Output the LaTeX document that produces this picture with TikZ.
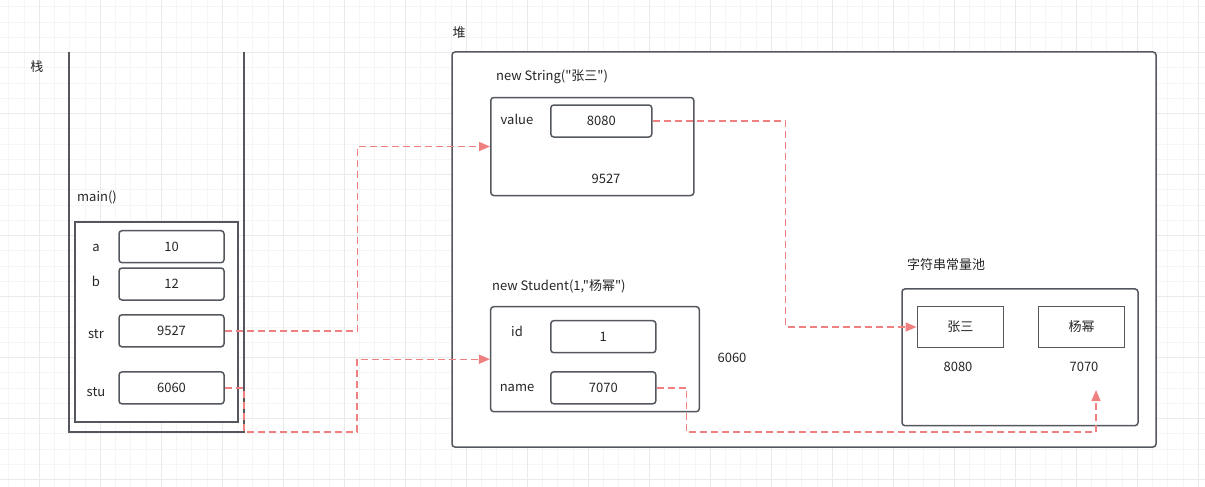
\documentclass[tikz,border=0pt]{standalone}
\usepackage{fontspec}
\setmainfont{Noto Sans CJK SC}[Ligatures=TeXOff]
\usetikzlibrary{arrows.meta}

\definecolor{edge}{RGB}{84,88,94}
\definecolor{refred}{RGB}{238,128,128}
\definecolor{gridmin}{RGB}{245,245,245}
\definecolor{gridmaj}{RGB}{234,234,234}

\begin{document}
\begin{tikzpicture}[
  x=1pt, y=-1pt,
  font=\fontsize{13}{15}\selectfont, text=black!85,
  lbl/.style={inner sep=0pt},
  cell/.style={draw=edge, line width=1.5pt, fill=white, rounded corners=3pt,
               inner sep=0pt, minimum height=32pt},
  frame/.style={draw=edge, line width=1.5pt, fill=white, inner sep=0pt},
  wall/.style={draw=edge, line width=1.5pt},
  ref/.style={draw=refred, line width=1.4pt, dash pattern=on 7pt off 4pt,
              -{Triangle[length=11pt,width=9pt]}},
]
\useasboundingbox (0,0) rectangle (1205,487);

% ---- grid ----
\foreach \k in {-2,...,76} \draw[gridmin, line width=1pt] ({39.3+15.25*\k},0) -- ++(0,487);
\foreach \k in {-3,...,28} \draw[gridmin, line width=1pt] (0,{52.7+15.25*\k}) -- ++(1205,0);
\foreach \k in {0,4,...,76} \draw[gridmaj, line width=1.2pt] ({39.3+15.25*\k},0) -- ++(0,487);
\foreach \k in {0,4,...,28} \draw[gridmaj, line width=1.2pt] (0,{52.7+15.25*\k}) -- ++(1205,0);

% ---- stack ----
\node[lbl] (stklbl) at (37,67) {栈};
\draw[wall] (69,52) -- (69,432) -- (244,432) -- (244,52);
\coordinate (stkbr) at (244,432);
\node[lbl, anchor=west] (mainlbl) at (77,197) {main()};
\node[frame, minimum width=163pt, minimum height=200pt] (mainfr) at (156.5,322) {};

\node[cell, minimum width=105pt] (va)   at (171.5,246.7) {10};
\node[cell, minimum width=105pt] (vb)   at (171.5,284)   {12};
\node[cell, minimum width=105pt] (vstr) at (171.5,330.8) {9527};
\node[cell, minimum width=105pt] (vstu) at (171.5,387.9) {6060};
\node[lbl] (la)   at (96,248) {a};
\node[lbl] (lb)   at (96,281) {b};
\node[lbl] (lstr) at (96,334) {str};
\node[lbl] (lstu) at (96,392) {stu};

% ---- heap ----
\node[lbl] (heaplbl) at (459,33) {堆};
\node[cell, minimum width=704pt, minimum height=395pt] (heap) at (804,249.5) {};

% String object
\node[lbl, anchor=west] (strlbl) at (496,77) {new String("张三")};
\node[cell, minimum width=203pt, minimum height=98pt] (strobj) at (592.3,146.5) {};
\node[cell, minimum width=101pt] (v8080) at (601.3,121) {8080};
\node[lbl] (lvalue) at (517,119) {value};
\node[lbl] (a9527)  at (606,179) {9527};

% Student object
\node[lbl, anchor=west] (stulbl) at (492,286) {new Student(1,"杨幂")};
\node[cell, minimum width=208.6pt, minimum height=105pt] (stuobj) at (595,359.2) {};
\node[cell, minimum width=105pt] (vid)   at (603.3,336.7) {1};
\node[cell, minimum width=105pt] (vname) at (603.3,387.8) {7070};
\node[lbl] (lid)   at (517,331) {id};
\node[lbl] (lname) at (517,388) {name};
\node[lbl] (a6060) at (732,358) {6060};

% string pool
\node[lbl, anchor=west] (poollbl) at (907,265) {字符串常量池};
\node[cell, minimum width=236pt, minimum height=136.7pt] (pool) at (1020,357.3) {};
\node[frame, minimum width=86pt, minimum height=40.6pt] (zs) at (960.3,327) {张三};
\node[frame, minimum width=85.6pt, minimum height=40.6pt] (ym) at (1081.5,327) {杨幂};
\node[lbl] (a8080) at (958,367) {8080};
\node[lbl] (a7070) at (1084,367) {7070};
\coordinate (tipym) at (1096,390);
\coordinate (turnym) at (1096,432);

% ---- references ----
\draw[ref] (vstr.east) -- ++(133,0) |- (strobj.west);
\draw[ref] (vstu.east) -| (stkbr) -- ++(113,0) |- (stuobj.west);
\draw[ref] (v8080.east) -- ++(133,0) |- (zs.west);
\draw[ref] (vname.east) -- ++(30,0) |- (turnym) -- (tipym);
\end{tikzpicture}
\end{document}
